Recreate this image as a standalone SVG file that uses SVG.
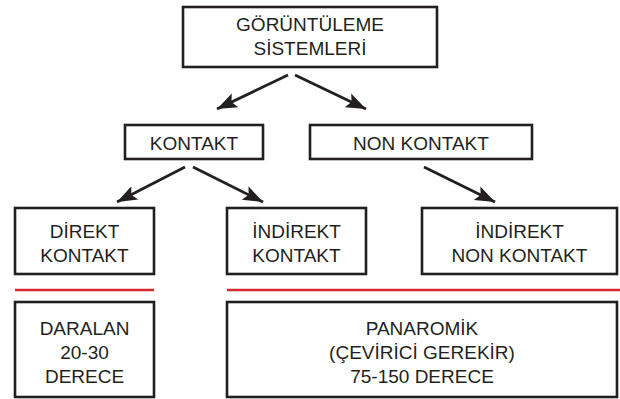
<svg xmlns="http://www.w3.org/2000/svg" width="620" height="399" viewBox="0 0 620 399">
<style>
.box{fill:#fff;stroke:#231f20;stroke-width:2.6}
.t{font-family:"Liberation Sans",Arial,sans-serif;font-size:19px;fill:#231f20;text-anchor:middle}
.red{stroke:#d7282f;stroke-width:2.6}
.arr{stroke:#231f20;stroke-width:2.8;fill:none;marker-end:url(#ah)}
</style>
<defs>
<marker id="ah" markerUnits="userSpaceOnUse" markerWidth="22" markerHeight="18" viewBox="0 0 22 18" refX="20" refY="9" orient="auto">
<path d="M0,1.5 L20,9 L0,16.5 L4,9 Z" fill="#231f20"/>
</marker>
</defs>
<rect width="620" height="399" fill="#fff"/>
<g id="connectors">
<line class="arr" x1="288" y1="75" x2="217" y2="109"/>
<line class="arr" x1="295" y1="75" x2="366" y2="109"/>
<line class="arr" x1="185" y1="167" x2="117" y2="202"/>
<line class="arr" x1="193" y1="167" x2="263" y2="202"/>
<line class="arr" x1="424" y1="167" x2="495" y2="202"/>
</g>
<g id="n-root">
<rect class="box" x="183" y="7" width="254" height="60"/>
<text class="t" x="310" y="31">GÖRÜNTÜLEME</text>
<text class="t" x="310" y="55">SİSTEMLERİ</text>
</g>
<g id="n-kontakt">
<rect class="box" x="125" y="125" width="138" height="34"/>
<text class="t" x="194" y="150">KONTAKT</text>
</g>
<g id="n-nonkontakt">
<rect class="box" x="310" y="125" width="222" height="34"/>
<text class="t" x="421" y="150">NON KONTAKT</text>
</g>
<g id="n-direkt">
<rect class="box" x="15" y="208" width="139" height="66"/>
<text class="t" x="84.5" y="238">DİREKT</text>
<text class="t" x="84.5" y="262">KONTAKT</text>
</g>
<g id="n-indirekt">
<rect class="box" x="227" y="208" width="139" height="66"/>
<text class="t" x="296.5" y="238">İNDİREKT</text>
<text class="t" x="296.5" y="262">KONTAKT</text>
</g>
<g id="n-indirekt-non">
<rect class="box" x="422" y="208" width="195" height="66"/>
<text class="t" x="519.5" y="238">İNDİREKT</text>
<text class="t" x="519.5" y="262">NON KONTAKT</text>
</g>
<g id="separators">
<line class="red" x1="15" y1="290" x2="154" y2="290"/>
<line class="red" x1="227" y1="290" x2="620" y2="290"/>
</g>
<g id="n-daralan">
<rect class="box" x="15" y="302" width="139" height="95"/>
<text class="t" x="84.5" y="335">DARALAN</text>
<text class="t" x="84.5" y="359">20-30</text>
<text class="t" x="84.5" y="383">DERECE</text>
</g>
<g id="n-panoramik">
<rect class="box" x="227" y="302" width="390" height="95"/>
<text class="t" x="422" y="335">PANAROMİK</text>
<text class="t" x="422" y="359">(ÇEVİRİCİ GEREKİR)</text>
<text class="t" x="422" y="383">75-150 DERECE</text>
</g>
</svg>
